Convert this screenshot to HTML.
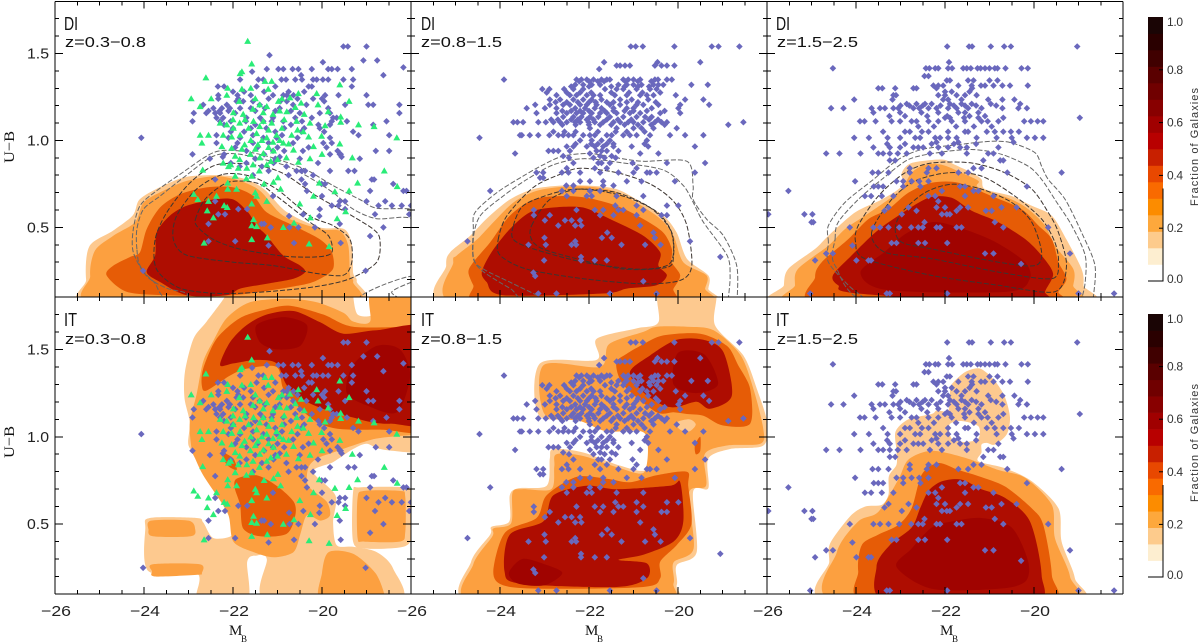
<!DOCTYPE html>
<html lang="en">
<head>
<meta charset="utf-8">
<title>U-B colour magnitude diagrams</title>
<style>
html,body{margin:0;padding:0;background:#fff;width:1200px;height:644px;overflow:hidden}
svg{display:block}
text{fill:#111}
.num{font-family:"Liberation Sans",sans-serif;font-size:15px;fill:#222}
.ser{font-family:"Liberation Serif",serif;fill:#111}
.tag{font-family:"Liberation Sans",sans-serif;font-size:18px;fill:#111}
.zlab{font-family:"Liberation Sans",sans-serif;font-size:15px;fill:#111}
.cb{font-family:"Liberation Sans",sans-serif;font-size:12px;fill:#333}
</style>
</head>
<body>
<svg id="chart" width="1200" height="644" viewBox="0 0 1200 644" xmlns="http://www.w3.org/2000/svg">
<defs>
<clipPath id="clip-0-0"><rect x="55" y="1.3" width="356" height="295.7"/></clipPath>
<clipPath id="clip-0-1"><rect x="411" y="1.3" width="356" height="295.7"/></clipPath>
<clipPath id="clip-0-2"><rect x="767" y="1.3" width="356" height="295.7"/></clipPath>
<clipPath id="clip-1-0"><rect x="55" y="297" width="356" height="297"/></clipPath>
<clipPath id="clip-1-1"><rect x="411" y="297" width="356" height="297"/></clipPath>
<clipPath id="clip-1-2"><rect x="767" y="297" width="356" height="297"/></clipPath>
</defs>
<rect width="1200" height="644" fill="#fff"/>
<g id="plots"></g>
<g id="axes"></g>
<g id="cbars"></g>

<text class="tag" x="64" y="30" textLength="14" lengthAdjust="spacingAndGlyphs">DI</text>
<text class="zlab" x="65" y="47" textLength="81" lengthAdjust="spacingAndGlyphs">z=0.3−0.8</text>
<text class="tag" x="421" y="30" textLength="14" lengthAdjust="spacingAndGlyphs">DI</text>
<text class="zlab" x="421" y="47" textLength="81" lengthAdjust="spacingAndGlyphs">z=0.8−1.5</text>
<text class="tag" x="776" y="30" textLength="14" lengthAdjust="spacingAndGlyphs">DI</text>
<text class="zlab" x="777" y="47" textLength="81" lengthAdjust="spacingAndGlyphs">z=1.5−2.5</text>
<text class="tag" x="64" y="326" textLength="13" lengthAdjust="spacingAndGlyphs">IT</text>
<text class="zlab" x="65" y="344" textLength="81" lengthAdjust="spacingAndGlyphs">z=0.3−0.8</text>
<text class="tag" x="421" y="326" textLength="13" lengthAdjust="spacingAndGlyphs">IT</text>
<text class="zlab" x="421" y="344" textLength="81" lengthAdjust="spacingAndGlyphs">z=0.8−1.5</text>
<text class="tag" x="776" y="326" textLength="13" lengthAdjust="spacingAndGlyphs">IT</text>
<text class="zlab" x="777" y="344" textLength="81" lengthAdjust="spacingAndGlyphs">z=1.5−2.5</text>

<text class="ser" font-size="15" text-anchor="middle" transform="translate(14,147) rotate(-90)" textLength="32" lengthAdjust="spacingAndGlyphs">U−B</text>
<text class="ser" font-size="15" text-anchor="middle" transform="translate(14,442) rotate(-90)" textLength="32" lengthAdjust="spacingAndGlyphs">U−B</text>
<g><text class="ser" font-size="15" x="229" y="635">M</text><text class="ser" font-size="9" x="241" y="642">B</text></g>
<g><text class="ser" font-size="15" x="585" y="635">M</text><text class="ser" font-size="9" x="597" y="642">B</text></g>
<g><text class="ser" font-size="15" x="940" y="635">M</text><text class="ser" font-size="9" x="952" y="642">B</text></g>
<text class="cb" text-anchor="middle" transform="translate(1198,147) rotate(-90)" textLength="118" style="font-size:11px">Fraction of Galaxies</text>
<text class="cb" text-anchor="middle" transform="translate(1198,443) rotate(-90)" textLength="118" style="font-size:11px">Fraction of Galaxies</text>
</svg>
<script>
// ---- tick values ----
const xMajorTicks=[-26,-24,-22,-20,-18];
const xTickLabels=["−26","−24","−22","−20"];
const xMinorTicks=[-25.5,-25,-24.5,-23.5,-23,-22.5,-21.5,-21,-20.5,-19.5,-19,-18.5];
const yMajorTicks=[1.5,1.0,0.5];
const yTickLabels=["1.5","1.0","0.5"];
const yMinorTicks=[1.7,1.6,1.4,1.3,1.2,1.1,0.9,0.8,0.7,0.6,0.4,0.3,0.2];
const cbarTickValues=[1.0,0.8,0.6,0.4,0.2,0.0];
const cbarTickLabels=["1.0","0.8","0.6","0.4","0.2","0.0"];
const cbarBandColors=["#ffffff","#fdeed0","#fdcb8c","#fda83c","#fc8c00","#f96a00","#e84800","#c82000","#b80000","#a00000","#880000","#700000","#5a0000","#400000","#2a0000","#1a0505"];
const levelColors={0:"#ffffff",1:"#fdc98f",2:"#fca040",3:"#e65c06",4:"#ae0d01",5:"#a00300"};

// ---- blue galaxies: each row is [U-B, M_B, M_B, ...] ----
const blueLowZ=[
[1.54,-19.52,-19.42,-19],[1.49,-21.18],[1.46,-19.07,-18.76],[1.45,-19.98],[1.42,-18.17],
[1.41,-20.23,-19.86,-19.78,-21.24,-20.98,-20.87,-20.66,-20.53,-19.65,-19.33],[1.395,-21.57],[1.375,-18.62,-20.47],
[1.35,-21.84,-21.43,-21.32,-20.91,-20.81,-20.6,-20.45,-20.2,-20.12,-19.98,-19.86,-19.3,-19.52],
[1.31,-22.34,-22.2,-20.3,-20.23,-21.47,-19.33,-21.05],[1.26,-20.87,-20.79,-20.64,-22.33,-19.93,-19.63,-19,-21.9,-21.6,-21.1],
[1.24,-22.33,-21.88,-20,-21.2,-20.55,-20.2],[1.225,-21.92,-21.77,-21.55,-20.94,-20.79,-19.95],
[1.205,-22.67,-22.14,-18.96,-18.85,-18.26,-19.48,-21.4,-20.65,-20.35],
[1.185,-22.44,-22.25,-22.07,-21.84,-21.28,-19.86,-21.6,-20.95],
[1.157,-22.88,-22.6,-22.4,-22.29,-19.82,-18.26,-21.95,-20.5,-20.05],
[1.13,-22.37,-22.22,-21.39,-19.75,-19.67,-20.23,-21.7,-21.1,-20.6],
[1.11,-22.91,-22.29,-21.71,-21.32,-21.13,-20.87,-18.55,-19.44,-19.78,-20.45,-22.05],
[1.09,-18.85,-19.82,-20.08,-22.2,-21.5,-20.7],[1.05,-19.3,-20.46,-21.75,-21.05,-19.95,-22.05],
[1.03,-18.49,-19.18,-22.37,-21.55,-20.9],[1.015,-24.06,-21.84,-21.32,-21.02,-19.82,-22.1,-20.55],
[.985,-22.37,-19.78,-19.97,-21.55,-21.2,-20.65,-21.9],[.94,-18.79,-18.49,-20.43,-21.7,-21.1,-20.85,-19.65],
[.92,-22.91,-19.6,-19.58,-19.82,-21.3,-22.2],[.905,-22.23,-19.56,-20.95],[.895,-19.15,-22.52,-21.5,-21.05,-20.5],
[.87,-21.09,-20.09,-21.7,-22.05],[.825,-19.41,-19.27,-19.82,-20.38,-20.46,-20.57,-21.2],[.775,-18.88,-18.83,-22.4,-20.46],
[.75,-18.4,-20.38,-20.01,-19.93],[.71,-18.1,-18.92,-18.17,-20.34],[.68,-20,-21.1],
[.65,-19,-18.58,-22.4,-19.48,-19.6],[.625,-18.73,-18.43,-18.21,-18,-19.78,-19.63],[.605,-21.88,-21.68,-20.05,-19.48],
[.575,-18.04,-18.81,-20.42,-22.33,-22.18],[.565,-20.06,-20.74],[.52,-22.55,-19.6,-21.36,-21.3],
[.5,-18.62,-20.53,-20.73,-21.15,-20.16],[.45,-18.92],[.42,-22.55,-21.95],[.41,-20.63,-19.58],[.395,-21.2],[.25,-19.02,-24.02],
[1.28,-22,-21.75,-21.3,-20.75,-20.4],[1.17,-22.55,-22.3,-22.1,-21.5,-21.05,-20.7],[1.07,-22,-21.6,-21.25,-20.85,-20.4,-20.05],[.96,-21.95,-21.45,-21,-20.3,-19.9],[.85,-21.85,-21.35,-20.8],[.8,-21.55,-20.75,-20.2]
];
const blueMidZ=[
[1.54,-21.06,-20.95,-20.79,-20.08,-19.24,-19.09,-18.62],[1.45,-21.66,-20.46,-19.5],
[1.43,-21.38,-21.3,-21.19,-21.08,-20.52,-20.37,-20.25,-20.08],[1.41,-21.77],
[1.35,-23.91,-22.28,-22.17,-22.05,-21.9,-21.72,-21.6,-21.53,-21.23,-21.12,-21,-20.85,-20.52,-20.45,-20.25,-20.14],
[1.32,-22.31,-22.13,-21.94,-21.75,-21.34,-21.15,-21,-20.82,-20.55,-20.44,-20.33,-19.7,-19.33],
[1.295,-23.05,-22.89,-22.56,-22.35,-22.13,-21.64,-21.38,-21.23,-20.93,-20.63,-20.48],
[1.26,-22.73,-22.43,-22.28,-22.05,-21.9,-21.75,-21.42,-21.15,-20.85,-20.7,-20.55,-20.05],
[1.235,-22.88,-22.65,-22.35,-22.13,-21.94,-21.72,-21.3,-21.04,-20.67,-19.84,-19.43],
[1.205,-23.21,-22.88,-22.58,-22.43,-22.2,-22.05,-21.83,-21.53,-21.3,-20.93,-20.78,-20.44,-19.95,-19.3],
[1.185,-23.4,-22.99,-22.73,-22.31,-22.09,-21.87,-21.72,-21.45,-21.15,-21,-20.59,-19.99],
[1.157,-23.18,-22.73,-22.5,-22.28,-22.13,-21.94,-21.75,-21.6,-21.38,-21.08,-20.85,-20.4,-19.95],
[1.135,-22.58,-22.35,-22.17,-21.98,-21.79,-21.53,-21.23,-20.93,-20.74,-20.59],
[1.105,-23.7,-23.61,-23.48,-23.14,-22.97,-22.8,-22.65,-22.5,-22.31,-22.2,-22.01,-21.87,-21.68,-21.45,-21.3,-21.12,-21,-20.78,-20.52,-20.37,-20.25,-18.53],
[1.09,-18.87],[1.07,-21.98,-21.38,-21,-20.82,-20.55,-20.03],
[1.03,-23.55,-23.51,-23.33,-23.14,-22.89,-22.69,-22.58,-22.46,-22.35,-22.13,-21.98,-21.87,-21.6,-21.49,-21.23,-21.08,-20.93,-20.63,-20.18,-19.84,-19.43],
[1.015,-24.46],[1,-22.2,-21.94,-21.72,-21.53,-20.7],
[.965,-22.5,-22.35,-22.05,-21.87,-21.68,-21.45,-21.04,-20.67,-19.62],
[.94,-22.91,-22.8,-22.69,-22.43,-21.83,-21.72,-21.6,-21.34],[.925,-23.66,-21.98,-20.85,-20.44],[.91,-22.58,-21.75,-21.49],
[.87,-22.35,-21.79,-21.72,-21.53,-21.02,-20.25,-19.39],[.84,-22.5,-21.87,-21.6,-20.93],
[.815,-23.18,-23.03,-22.61,-22.46,-22.2,-21.75,-21.34,-21,-20.7,-20.63,-20.48,-19.62],[.785,-23.1,-23.03],
[.765,-22.2,-21.98,-21.68,-21.15,-20.82,-20.07],[.74,-22.51,-22.35,-21.68,-21.45],[.71,-24.22,-22.61,-22.35,-21.98,-21.75],
[.68,-22.5,-22.05,-21.94,-21.38,-20.78],[.625,-21.41,-20.93,-20.25,-19.99],[.6,-23.24,-22.28,-21.87,-21.68,-21.34,-21.23,-20.78],
[.57,-23.24,-22.88,-21.75,-21.45,-20.93,-20.37,-20.25],[.54,-22.99,-22.54,-22.39,-22.2],[.51,-22.69,-22.31,-22.17,-20.85],
[.47,-21.59,-20.55],[.44,-23,-21.71,-21.49,-20.52],[.42,-24.73,-22.31,-19.73],[.4,-23.36,-22.97,-22.39,-22.29,-21.27,-20.74,-20.39],
[.33,-22.18,-19.05],[.31,-23.01,-21.87,-21.6,-22.18],[.24,-23.25],[.22,-23.21],[.19,-20.78],[.12,-23.14,-22.73,-21.53,-20.48],
[1.34,-22.22,-22,-21.8,-21.66,-21.18,-20.9,-20.6],[1.31,-22.4,-22,-21.5,-21.2,-20.9,-20.65],[1.275,-22.95,-22.5,-22.2,-21.95,-21.5,-21.1,-20.8,-20.4],
[1.22,-22.75,-22.5,-22.25,-22,-21.85,-21.6,-21.45,-21.15,-20.9,-20.5],[1.17,-22.6,-22.4,-22.2,-22,-21.65,-21.45,-21.2,-21,-20.7,-20.3],
[1.12,-22.85,-22.7,-22.4,-22.25,-22.05,-21.9,-21.6,-21.35,-21.05,-20.65,-20.45],[1.09,-22.6,-22.3,-22,-21.75,-21.5,-21.2,-20.9,-20.6,-20.3],
[1.05,-22.8,-22.55,-22.3,-21.8,-21.4,-21.15,-20.75],[.98,-22.3,-21.95,-21.8,-21.6,-21.45,-20.75],[.9,-22.45,-21.9,-21.65,-21.4]
];
const blueHighZ=[
[1.54,-21.95,-21.46,-21.39,-20.97,-20.67,-20.52,-19.03],[1.45,-21.91],
[1.415,-24.52,-22.43,-22.35,-22.22,-22.15,-21.93,-21.84,-21.59,-21.51,-21.42,-21.27,-21.2,-21.1,-21,-20.88,-20.82,-20.64,-20.28,-20.14],
[1.37,-22.46,-22.37],[1.345,-21.96,-21.89,-21.48,-21.36,-21,-20.82],
[1.315,-22.26,-22.15,-22.04,-21.7,-21.4,-21.19,-21.1,-20.91,-20.71,-20.54,-20.14],
[1.3,-23.5,-23.41,-23.12,-22.64,-22.71,-22.19,-21.39],[1.26,-23.1,-23.16,-22.15,-22,-21.74,-21.55,-21.29],
[1.235,-24.04,-23.18,-22.04,-21.93,-21.63,-21.03,-20.71,-20.44],
[1.21,-22.86,-22.64,-22.45,-22.3,-21.89,-21.63,-21.4,-20.97,-20.31],
[1.185,-24.56,-24.28,-23.65,-23.46,-23.35,-23.16,-23.05,-22.71,-22.58,-22.37,-22.19,-21.93,-21.74,-21.48,-21.18,-20.71,-20.35,-20.16],
[1.16,-23.61,-23.01,-22.53,-22.15,-21.7,-21.55,-21.25],[1.13,-22,-21.89,-21.57,-21.25,-20.69,-18.97],
[1.11,-23.91,-23.81,-23.56,-23.2,-23.01,-22.75,-22.64,-22.37,-22.15,-21.85,-21.55,-21.18,-21.04,-20.8,-20.22,-20.07,-19.92,-19.79],
[1.05,-23.39,-22.9,-22.79,-22.52,-22.37,-21.93,-21.55,-21.48,-21.06,-20.88,-20.69,-20.52,-20.34],
[1.015,-24.04,-23.71,-23.29,-23.01,-22.67,-22.56,-22.22,-22.11,-21.93,-21.74,-21.29,-20.84,-20.5,-20.16,-19.98,-19.79],
[.99,-22.19,-21.7,-20.46],[.96,-23.61,-23.24,-23.01,-22.71,-22.6,-22.49,-22.15,-21.93,-21.66,-21.51,-20.8],
[.925,-24.67,-24.37,-23.9,-23.5,-23.39,-23.24,-23.06,-22.86,-22.34,-22.07,-21.51,-20.91,-21.03],
[.885,-23.24,-23.12,-21.14,-20.76,-20.69],[.84,-22.37,-22.19,-22.79,-21.18,-21.36],
[.815,-23.63,-23.5,-23.27,-22.79,-22.41,-21.7,-21.48,-20.6,-19.38],[.765,-24.02,-23.09,-22.94,-22.75,-22.58,-22.37],
[.735,-23.6,-23.5,-23.39,-22.94,-22.55,-21.66,-21.55,-20.16],[.71,-25.52,-21.36,-21.25,-22.07],
[.68,-23.8,-23.66,-23.16,-23.42,-22.37,-22.22,-20.91,-21.55],[.65,-22.15],
[.615,-23.27,-22.82,-22.19,-22,-21.66,-21.48,-20.73,-20.39],[.595,-23.36,-22.64,-21.74,-21.08,-20.95],
[.575,-25.97,-25.16,-24.98,-22.97,-21.96,-21.89,-22.07],[.53,-25,-22.46,-24.96,-20.88],
[.5,-24.14,-23.61,-23.46,-23.27,-23.03,-22.76,-22.6,-22.5,-22.19,-22.11,-21.74,-21.63,-20.69,-19.68],
[.41,-23.2,-23.09,-22.6,-22.45,-21.95],[.395,-24.08],[.35,-24.67,-24.52,-21.1,-20.91,-19.19],[.31,-24.92,-23.99,-23.72,-23.66],[.29,-20.29],
[.12,-25.03,-23.31,-23.24,-21.95,-19,-18.2],
[1.2,-23,-22.8,-22.5,-22.1,-21.8,-21.55,-21.3,-20.85],[1.28,-22,-21.85,-21.45],[1.08,-22.6,-22.25,-21.75,-21.35,-20.95],[1.14,-23.25,-22.9,-22.4,-21.95,-21.45,-21.1],[.98,-23.3,-22.9,-22.3,-21.8,-21.3]
];
// ---- green galaxies, low redshift only: [M_B, U-B] ----
const greenLowZ=[[-21.67,1.57],[-21.58,1.44],[-21.8,1.395],[-21.84,1.385],[-22.61,1.36],[-21.28,1.34],[-21.13,1.34],[-19.6,1.32],[-22.12,1.3],[-21.8,1.295],[-21.6,1.3],[-21.21,1.295],[-20.12,1.27],[-22.94,1.24],[-22.49,1.24],[-22.14,1.26],[-20.53,1.27],[-19.39,1.225],[-22.74,1.195],[-21.86,1.225],[-20.72,1.245],[-20.47,1.215],[-20.09,1.205],[-21.4,1.205],[-20.98,1.225],[-21.24,1.195],[-21.99,1.16],[-21.77,1.15],[-21.32,1.16],[-20.79,1.165],[-20.4,1.15],[-19.86,1.165],[-19.58,1.135],[-22.29,1.1],[-22.14,1.09],[-21.99,1.07],[-21.73,1.12],[-21.54,1.11],[-21.32,1.11],[-21.13,1.1],[-20.57,1.11],[-20.27,1.1],[-19.93,1.085],[-19.18,1.09],[-18.83,1.08],[-19.58,1.105],[-22.74,1.03],[-22.55,1.03],[-22.22,1.03],[-22.03,1.02],[-21.84,1.03],[-21.47,1.04],[-21.24,1.015],[-21.02,1.03],[-20.68,1.03],[-20.42,1.05],[-20.01,1.025],[-18.32,1.015],[-22.7,.985],[-22.25,.965],[-22.03,.955],[-21.74,.975],[-21.44,.975],[-20.87,.985],[-20.19,.965],[-19.6,.98],[-21.95,.91],[-21.61,.92],[-21.32,.925],[-21.09,.94],[-20.64,.945],[-20,.92],[-20.27,.895],[-19.32,.9],[-22.22,.87],[-22.1,.85],[-21.88,.84],[-21.69,.84],[-21.24,.86],[-20.53,.875],[-21,.89],[-22.68,.83],[-21.41,.825],[-18.6,.825],[-21.95,.795],[-21.58,.795],[-20.99,.785],[-21.7,.78],[-22.12,.755],[-21.3,.75],[-21.09,.76],[-20.06,.755],[-19.2,.755],[-22.12,.72],[-21.92,.72],[-20.93,.72],[-21.5,.7],[-19.71,.705],[-19.39,.71],[-18.31,.735],[-20.19,.68],[-22.88,.69],[-22.37,.68],[-22.79,.66],[-22.55,.65],[-21.47,.68],[-21.24,.65],[-21.58,.635],[-20.5,.635],[-22.58,.595],[-22.2,.625],[-22.13,.615],[-19.47,.59],[-22.44,.555],[-20.26,.555],[-21.54,.545],[-19.66,.55],[-21.58,.51],[-21.47,.505],[-20.87,.5],[-20.63,.525],[-21.23,.44],[-21.58,.43],[-22.65,.41],[-20.29,.405],[-19.84,.39],
[-21.5,1.24],[-21.1,1.15],[-20.95,1.17],[-20.85,1.12],[-21.65,1.07],[-21.4,1.08],[-21.2,1.06],[-20.9,1.07],[-20.55,1.06],[-20.3,1.02],[-21.6,1],[-21.35,1.0],[-21.1,.99],[-20.95,1.0],[-21.8,.95],[-21.5,.95],[-21.2,.96],[-20.75,.98],[-21.85,.89],[-21.4,.9],[-21.15,.88],[-20.8,.9],[-22.05,.86],[-21.55,.86],[-21.85,1.1],[-22,1.12],[-21.55,1.18],[-20.6,1.19],[-20.9,1.24]];

// ---- filled density contours, points are [M_B, U-B] ----
const diLowBands=[
[1,[[-25.3,.2],[-25.23,.39],[-24.7,.48],[-24.25,.57],[-24.1,.66],[-23.65,.73],[-23.05,.79],[-22.3,.8],[-21.75,.78],[-21.3,.72],[-20.8,.59],[-20.05,.5],[-19.5,.49],[-19.33,.4],[-19.3,.24],[-19.22,.19],[-19.4,.05],[-25.1,.05]]],
[2,[[-25.21,.22],[-25.1,.367],[-24.69,.452],[-24.2,.53],[-24.01,.643],[-23.57,.71],[-23.04,.767],[-22.37,.795],[-21.84,.767],[-21.39,.71],[-20.87,.567],[-20.04,.49],[-19.6,.48],[-19.41,.395],[-19.37,.224],[-19.3,.186],[-19.5,.05],[-25,.05]]],
[3,[[-24.84,.224],[-24.69,.28],[-24.31,.33],[-24.09,.357],[-23.94,.49],[-23.64,.614],[-23.19,.69],[-22.59,.73],[-21.99,.73],[-21.54,.68],[-21.24,.586],[-20.64,.51],[-20.04,.43],[-19.78,.357],[-19.75,.262],[-20.04,.205],[-20.49,.167],[-21.99,.11],[-23.49,.11],[-24.39,.13]]],
[4,[[-23.94,.243],[-23.75,.338],[-23.72,.47],[-23.42,.567],[-23.04,.624],[-22.44,.66],[-21.99,.66],[-21.66,.586],[-21.47,.51],[-21.24,.452],[-20.87,.338],[-20.49,.28],[-20.38,.243],[-20.64,.205],[-21.24,.176],[-21.84,.148],[-22.14,.11],[-23.04,.11],[-23.64,.186]]]
];
const diMidBands=[
[1,[[-25.21,.28],[-25.12,.357],[-24.67,.452],[-24.3,.55],[-23.78,.66],[-23.25,.72],[-22.65,.74],[-21.98,.74],[-21.38,.72],[-20.93,.66],[-20.33,.567],[-20.03,.47],[-19.8,.32],[-19.32,.224],[-19.32,.148],[-19.43,.05],[-25.1,.05]]],
[2,[[-25.05,.3],[-24.97,.338],[-24.52,.43],[-24.22,.51],[-23.7,.643],[-23.18,.71],[-22.58,.734],[-21.98,.734],[-21.45,.71],[-21,.652],[-20.4,.55],[-20.1,.452],[-19.88,.3],[-19.36,.224],[-19.39,.148],[-19.5,.05],[-24.9,.05]]],
[3,[[-24.71,.243],[-24.6,.3],[-24.22,.414],[-23.78,.567],[-23.25,.66],[-22.65,.68],[-22.05,.67],[-21.38,.624],[-20.78,.548],[-20.33,.47],[-20.14,.376],[-20.14,.3],[-19.95,.224],[-20.1,.148],[-20.33,.05],[-24.37,.05],[-24.6,.167]]],
[4,[[-24.41,.243],[-24.19,.357],[-23.78,.49],[-23.33,.586],[-22.8,.614],[-22.13,.614],[-21.53,.548],[-20.78,.452],[-20.4,.357],[-20.44,.28],[-20.25,.224],[-20.48,.167],[-21.15,.148],[-21.68,.12],[-23.93,.11],[-24.3,.186]]]
];
const diHighBands=[
[1,[[-25.62,.167],[-25.52,.262],[-24.92,.376],[-24.62,.452],[-24.02,.586],[-23.42,.66],[-22.97,.738],[-22.97,.814],[-22.75,.87],[-22.07,.89],[-21.78,.86],[-21.4,.814],[-21.18,.776],[-21.1,.72],[-20.5,.68],[-20.05,.624],[-19.6,.567],[-19.27,.43],[-18.93,.26],[-18.89,.167],[-19,.05],[-25.6,.05]]],
[2,[[-25.37,.167],[-25.3,.262],[-24.62,.395],[-24.25,.49],[-23.8,.567],[-23.27,.66],[-22.97,.72],[-22.75,.814],[-22.45,.86],[-22.07,.86],[-21.63,.814],[-21.25,.767],[-21.25,.73],[-20.5,.66],[-20.13,.605],[-19.75,.51],[-19.53,.395],[-19.12,.262],[-19.12,.167],[-19.3,.05],[-25.3,.05]]],
[3,[[-24.92,.214],[-24.77,.3],[-24.17,.433],[-23.72,.548],[-23.27,.605],[-22.82,.7],[-22.3,.757],[-21.7,.757],[-20.95,.68],[-20.28,.605],[-19.9,.51],[-19.6,.433],[-19.45,.3],[-19.27,.205],[-19.45,.13],[-19.6,.05],[-24.77,.05]]],
[4,[[-24.52,.224],[-24.1,.338],[-23.57,.47],[-23.05,.567],[-22.37,.67],[-21.85,.67],[-21.4,.595],[-20.8,.53],[-20.2,.433],[-19.83,.338],[-19.57,.233],[-19.75,.13],[-19.75,.05],[-23.95,.12],[-24.4,.167]]],
[5,[[-23.9,.24],[-23.35,.36],[-22.9,.46],[-22.3,.53],[-21.7,.5],[-20.9,.42],[-20.2,.3],[-20.1,.2],[-20.6,.13],[-23.3,.14]]]
];
const itLowBands=[
[1,[[-22.14,1.82],[-22.59,1.66],[-22.89,1.56],[-23.08,1.37],[-23.09,1.22],[-22.97,1.08],[-23,.95],[-22.74,.875],[-22.44,.78],[-22.07,.665],[-21.99,.55],[-21.99,.44],[-22.44,.42],[-22.67,.51],[-22.82,.535],[-23.87,.535],[-23.97,.475],[-23.9,.23],[-22.82,.22],[-22.82,.1],[-22.82,.05],[-21.7,.05],[-21.68,.285],[-21.47,.32],[-21.24,.3],[-21.22,.05],[-18.32,.05],[-18.4,.245],[-18.77,.34],[-19.3,.37],[-19.67,.38],[-19.75,.51],[-19.7,.665],[-20.2,.8],[-19.75,.855],[-19.3,.93],[-19,.96],[-18.7,.93],[-18,.91],[-17.5,.91],[-17.5,1.9],[-18.77,1.81],[-18.85,1.7],[-19.2,1.7],[-19.3,1.81],[-19.3,1.9],[-22.14,1.9]]],
[1,[[-19.3,.685],[-19.3,.4],[-19,.36],[-18.17,.37],[-17.98,.44],[-17.98,.665],[-18.13,.71],[-19.15,.71]]],
[2,[[-22.97,1.08],[-22.93,.93],[-22.85,.875],[-22.67,.78],[-22.37,.665],[-22.1,.55],[-21.99,.4],[-21.54,.34],[-21.09,.31],[-20.64,.34],[-20.49,.44],[-20.34,.55],[-20.04,.52],[-19.82,.55],[-19.9,.63],[-20.31,.72],[-20.31,.82],[-20.12,.875],[-19.75,.91],[-19.3,.95],[-18.77,.99],[-17.95,1.01],[-17.5,1.01],[-17.5,1.9],[-18.85,1.85],[-18.92,1.66],[-19.3,1.66],[-19.52,1.71],[-20.12,1.77],[-20.79,1.79],[-21.62,1.77],[-22.14,1.68],[-22.44,1.55],[-22.67,1.43],[-22.82,1.24]]],
[2,[[-23.84,.52],[-23,.52],[-22.85,.47],[-22.95,.43],[-23.8,.43],[-23.9,.47]]],
[2,[[-23.8,.27],[-22.75,.27],[-22.7,.22],[-22.8,.21],[-23.75,.2],[-23.82,.23]]],
[2,[[-19.85,.34],[-19.3,.33],[-18.8,.22],[-18.6,.1],[-18.6,.05],[-20,.05],[-20,.22]]],
[2,[[-19.2,.65],[-19.2,.42],[-19.05,.4],[-18.25,.4],[-18.13,.45],[-18.13,.66],[-18.25,.69],[-19.05,.69]]],
[3,[[-22.7,1.29],[-22.67,1.39],[-22.37,1.56],[-21.84,1.68],[-21.24,1.73],[-20.72,1.75],[-19.97,1.7],[-19.3,1.63],[-17.95,1.63],[-17.5,1.63],[-17.5,1.02],[-17.98,1.02],[-18.62,1.04],[-19.3,1.04],[-19.75,1.05],[-20.12,1.085],[-20.49,1.16],[-20.87,1.275],[-21.02,1.4],[-21.69,1.39],[-22.07,1.35],[-22.59,1.265]]],
[3,[[-21.96,.705],[-21.92,.76],[-21.47,.78],[-21.02,.72],[-20.64,.63],[-20.6,.55],[-20.79,.445],[-21.39,.43],[-21.77,.475],[-21.84,.61]]],
[3,[[-22.25,.91],[-21.99,.875],[-21.92,.81],[-22.14,.84]]],
[4,[[-22.29,1.41],[-22.07,1.54],[-21.69,1.64],[-21.24,1.7],[-20.64,1.72],[-20.04,1.655],[-19.52,1.59],[-18.77,1.61],[-17.5,1.61],[-17.5,1.1],[-18.47,1.075],[-18.92,1.085],[-19.3,1.11],[-19.75,1.14],[-20.34,1.2],[-20.79,1.295],[-21.02,1.42],[-21.47,1.44],[-21.99,1.42]]],
[5,[[-21.47,1.64],[-20.87,1.685],[-20.34,1.64],[-20.49,1.52],[-21.02,1.5],[-21.39,1.54]]],
[5,[[-19.3,1.41],[-18.77,1.52],[-18.25,1.5],[-18.02,1.35],[-18.32,1.14],[-19,1.18],[-19.45,1.255]]]
];
const itMidBands=[
[1,[[-24.65,.05],[-24.65,.285],[-24.22,.44],[-24.19,.485],[-23.79,.515],[-23.78,.665],[-23.59,.705],[-22.95,.72],[-22.88,.875],[-22.8,.93],[-22.13,.91],[-21.3,.835],[-20.7,.815],[-20.7,1.03],[-21.6,1.045],[-22.13,1.105],[-23.12,1.12],[-23.1,1.42],[-21.83,1.44],[-21.83,1.56],[-20.93,1.62],[-20.44,1.655],[-20.4,1.85],[-19.2,1.85],[-19.17,1.64],[-18.53,1.465],[-18.23,1.275],[-18,1.085],[-18.08,.95],[-18.83,.93],[-19.32,.875],[-19.32,.705],[-19.66,.685],[-19.58,.34],[-20.03,.265],[-20.03,.15],[-20.33,.05]]],
[2,[[-24.6,.05],[-24.6,.27],[-24.17,.43],[-24.15,.475],[-23.75,.505],[-23.72,.68],[-23.5,.7],[-22.85,.7],[-22.78,.83],[-22.73,.9],[-22.13,.89],[-21.3,.82],[-20.75,.8],[-20.75,1.02],[-21.6,1.03],[-22.2,1.09],[-23,1.13],[-23.02,1.41],[-21.75,1.4],[-21.55,1.53],[-20.78,1.6],[-20.48,1.63],[-19.8,1.63],[-19.2,1.61],[-18.6,1.47],[-18.3,1.27],[-18.08,1.04],[-18.15,.96],[-18.9,.95],[-19.4,.9],[-19.37,.72],[-19.75,.68],[-19.65,.36],[-20.1,.28],[-20.1,.16],[-20.4,.05]]],
[1,[[-20.05,1.08],[-19.75,1.1],[-19.6,1.07],[-19.75,1.03],[-19.95,1.04]]],
[3,[[-24.15,.23],[-23.89,.45],[-23.18,.535],[-22.95,.665],[-22.28,.77],[-21.6,.76],[-21.08,.74],[-20.48,.78],[-19.8,.8],[-19.77,.72],[-19.7,.5],[-20.03,.38],[-20.4,.285],[-20.4,.19],[-20.78,.14],[-23.03,.13],[-23.93,.15]]],
[3,[[-21.34,1.35],[-21.38,1.43],[-21.15,1.475],[-20.78,1.53],[-20.33,1.58],[-19.5,1.59],[-18.9,1.52],[-18.65,1.41],[-18.38,1.275],[-18.38,1.075],[-19,1.065],[-19.43,1.12],[-19.8,1.13],[-20.1,1.14],[-20.48,1.14],[-21.15,1.275]]],
[3,[[-19.62,.95],[-19.5,1],[-19.5,.92],[-19.6,.9]]],
[4,[[-23.9,.23],[-23.78,.44],[-23.03,.515],[-22.8,.665],[-22.05,.72],[-21.38,.7],[-20.18,.72],[-19.95,.74],[-19.88,.515],[-20.1,.4],[-20.78,.325],[-21.34,.295],[-20.7,.275],[-20.7,.19],[-21.38,.14],[-23.55,.16]]],
[4,[[-21.08,1.37],[-20.63,1.465],[-20.03,1.555],[-19.43,1.555],[-18.98,1.485],[-18.79,1.235],[-19.28,1.16],[-19.58,1.2],[-20.03,1.17],[-20.33,1.18],[-20.78,1.255]]],
[5,[[-23.8,.22],[-23.5,.3],[-23,.27],[-22.6,.22],[-23,.15],[-23.6,.16]]],
[5,[[-20,1.48],[-19.4,1.47],[-19.1,1.3],[-19.6,1.25],[-20.1,1.3]]]
];
const itHighBands=[
[1,[[-24.58,.05],[-24.6,.285],[-24.58,.39],[-24.13,.545],[-23.8,.6],[-23.42,.61],[-23.27,.67],[-23.26,.775],[-23.09,.84],[-23.09,.92],[-23.11,1.03],[-22.82,1.1],[-22.3,1.13],[-22.19,1.15],[-21.93,1.15],[-21.89,1.245],[-21.85,1.3],[-21.55,1.37],[-21.21,1.39],[-20.88,1.32],[-20.65,1.225],[-20.54,1.11],[-20.61,1.015],[-20.88,.955],[-21.06,.965],[-21.18,.955],[-21.18,.91],[-21.25,.86],[-20.65,.82],[-20.05,.745],[-19.45,.59],[-19.38,.4],[-19.08,.19],[-19.19,.05]]],
[0,[[-21.9,1.07],[-21.63,1.09],[-21.25,1.06],[-21.25,.99],[-21.55,.97],[-21.85,.99]]],
[2,[[-24.43,.05],[-24.43,.34],[-23.95,.515],[-23.5,.57],[-23.05,.755],[-22.82,.87],[-22.3,.92],[-21.55,.88],[-20.8,.81],[-20.2,.765],[-19.6,.61],[-19.53,.42],[-19.19,.2],[-19.34,.05]]],
[3,[[-23.95,.23],[-23.87,.38],[-23.5,.44],[-23.05,.495],[-22.75,.59],[-22.52,.785],[-22.15,.85],[-21.7,.81],[-21.25,.775],[-20.65,.715],[-20.05,.59],[-19.79,.495],[-19.6,.21],[-19.75,.05],[-23.72,.05]]],
[4,[[-23.54,.255],[-23.24,.38],[-22.75,.48],[-22.56,.59],[-22.37,.69],[-22.07,.745],[-21.63,.755],[-21.18,.7],[-20.65,.65],[-20.09,.515],[-19.83,.21],[-20.05,.05],[-23.27,.05]]],
[5,[[-23.09,.255],[-22.75,.36],[-22.3,.48],[-21.85,.515],[-21.18,.535],[-20.5,.48],[-20.13,.285],[-20.2,.17],[-20.8,.13],[-22.3,.13]]]
];

// ---- dashed reference contours (DI row), points are [M_B, U-B] ----
const diLowLines=[
[[-24.24,.357],[-24.24,.49],[-24.09,.624],[-23.72,.71],[-23.19,.805],[-22.44,.93],[-21.84,.94],[-21.24,.91],[-20.64,.86],[-20.27,.82],[-19.75,.74],[-19.15,.66],[-18.77,.61],[-17.87,.6],[-17.5,.5],[-17.5,.2],[-17.98,.22],[-18.62,.17],[-19.11,.11],[-19.5,.04],[-22.8,.04],[-23.04,.12],[-23.49,.15],[-23.94,.22]],
[[-24.16,.375],[-24.16,.49],[-24.01,.605],[-23.64,.68],[-23.12,.785],[-22.44,.91],[-21.84,.92],[-20.87,.86],[-20.34,.795],[-19.75,.7],[-19.3,.605],[-18.77,.55],[-17.98,.55],[-17.6,.4],[-17.6,.22],[-17.98,.186],[-18.43,.13],[-18.5,.05],[-23,.05],[-23.79,.19],[-24.09,.28]],
[[-22.37,.86],[-21.54,.86],[-20.87,.81],[-20.12,.68],[-19.45,.585],[-18.85,.49],[-18.7,.43],[-18.77,.3],[-19.37,.205],[-20.12,.16],[-21.24,.13],[-22.29,.12],[-23.19,.15],[-23.72,.26],[-23.75,.43],[-23.49,.585],[-22.97,.755]],
[[-22.22,.805],[-21.62,.795],[-21.02,.72],[-20.27,.565],[-19.75,.51],[-19.37,.43],[-19.33,.3],[-19.52,.225],[-20.12,.235],[-21.09,.28],[-21.99,.3],[-23.04,.34],[-23.34,.43],[-23.27,.565],[-22.82,.72]],
[[-22.82,.565],[-22.82,.51],[-22.44,.43],[-21.84,.375],[-20.87,.335],[-20.12,.33],[-19.78,.355],[-19.85,.45],[-20.27,.53],[-21.02,.68],[-21.47,.755],[-22.1,.76],[-22.6,.67]]
];
const diMidLines=[
[[-24.6,.49],[-24.56,.586],[-24.07,.7],[-23.48,.795],[-23.03,.86],[-22.58,.91],[-21.98,.925],[-21.38,.9],[-20.78,.88],[-19.8,.88],[-19.66,.74],[-19.66,.66],[-19.36,.548],[-18.98,.452],[-18.68,.28],[-18.67,.09],[-18.7,.04],[-22.9,.04],[-23.03,.09],[-23.78,.185],[-24.37,.26],[-24.6,.32]],
[[-24.45,.565],[-23.93,.68],[-23.4,.775],[-22.8,.86],[-22.13,.895],[-21.23,.87],[-20.33,.83],[-19.88,.74],[-19.66,.645],[-19.43,.53],[-18.9,.34],[-18.83,.22],[-18.87,.09],[-18.9,.05],[-23,.05],[-23.78,.15],[-24.52,.28],[-24.6,.43]],
[[-24.04,.43],[-23.85,.565],[-23.25,.73],[-22.65,.805],[-22.2,.84],[-21.38,.815],[-20.63,.75],[-20.1,.65],[-19.8,.51],[-19.69,.28],[-19.95,.195],[-20.78,.175],[-22.13,.205],[-23.4,.26],[-24,.34]],
[[-23.7,.51],[-23.48,.624],[-22.88,.69],[-22.28,.72],[-21.38,.7],[-20.63,.614],[-20.18,.49],[-20.1,.357],[-20.25,.28],[-20.93,.26],[-22.13,.3],[-23.25,.376],[-23.7,.43]],
[[-23.29,.51],[-22.88,.66],[-22.2,.72],[-21.23,.68],[-20.48,.59],[-20.14,.47],[-20.1,.335],[-20.25,.27],[-21.23,.26],[-22.28,.32],[-23.03,.375],[-23.29,.43]]
];
const diHighLines=[
[[-24.62,.414],[-24.62,.51],[-24.25,.643],[-23.65,.767],[-23.05,.89],[-22.52,.948],[-21.7,.976],[-20.95,.995],[-20.5,.986],[-19.98,.93],[-19.83,.852],[-19.68,.776],[-19.3,.66],[-18.93,.47],[-18.63,.28],[-18.67,.09],[-18.7,.04],[-23.6,.04],[-23.8,.09],[-24.17,.167],[-24.62,.3]],
[[-24.47,.433],[-24.4,.53],[-23.95,.66],[-23.42,.776],[-22.82,.89],[-22.15,.93],[-21.4,.948],[-20.73,.92],[-20.13,.852],[-19.83,.776],[-19.53,.66],[-19.15,.51],[-18.85,.338],[-18.85,.186],[-18.93,.09],[-19,.05],[-23.5,.05],[-24.47,.28]],
[[-24.01,.414],[-23.95,.51],[-23.5,.68],[-22.9,.814],[-22.3,.87],[-21.4,.87],[-20.65,.814],[-20.05,.72],[-19.68,.586],[-19.45,.47],[-19.27,.28],[-19.53,.13],[-20.8,.167],[-22.3,.224],[-23.8,.32]],
[[-23.65,.47],[-23.2,.66],[-22.67,.767],[-21.93,.814],[-21.18,.795],[-20.43,.68],[-19.83,.548],[-19.53,.414],[-19.45,.3],[-19.6,.205],[-20.8,.243],[-22.3,.32],[-23.35,.357]],
[[-23.12,.49],[-22.97,.586],[-22.45,.7],[-21.85,.748],[-21.18,.72],[-20.5,.643],[-20.05,.53],[-19.83,.357],[-19.98,.28],[-20.8,.3],[-22.3,.376],[-22.97,.414]]
];

const svgNS="http://www.w3.org/2000/svg";
const PANEL_W=356, X_SCALE=44.5;
function xScale(col,m){return 55+col*PANEL_W+(m+26)*X_SCALE;}
function yScale(row,u){return row===0 ? 1.3+(1.8-u)*173.9 : 297+(1.8-u)*174.7;}
function cbarY(row,v){return row===0 ? 281-v*264 : 577-v*263;}
function make(tag,parent,attrs){const el=document.createElementNS(svgNS,tag);for(const k in attrs)el.setAttribute(k,attrs[k]);parent.appendChild(el);return el;}
function smoothClosed(pts,col,row){
  const p=pts.map(d=>[xScale(col,d[0]),yScale(row,d[1])]);
  const n=p.length;let s="M"+p[0][0].toFixed(1)+" "+p[0][1].toFixed(1);
  const k=1/7;
  for(let i=0;i<n;i++){
    const a=p[(i-1+n)%n],b=p[i],c=p[(i+1)%n],d=p[(i+2)%n];
    s+="C"+(b[0]+(c[0]-a[0])*k).toFixed(1)+" "+(b[1]+(c[1]-a[1])*k).toFixed(1)+" "+(c[0]-(d[0]-b[0])*k).toFixed(1)+" "+(c[1]-(d[1]-b[1])*k).toFixed(1)+" "+c[0].toFixed(1)+" "+c[1].toFixed(1);
  }
  return s+"Z";
}
const plots=document.getElementById("plots");
const axes=document.getElementById("axes");
const cbars=document.getElementById("cbars");
function drawDiamond(g,col,row,m,u){
  const x=xScale(col,m),y=yScale(row,u),r=3.3;
  const el=make("path",g,{d:`M${x.toFixed(1)} ${(y-r).toFixed(1)}L${(x+r).toFixed(1)} ${y.toFixed(1)}L${x.toFixed(1)} ${(y+r).toFixed(1)}L${(x-r).toFixed(1)} ${y.toFixed(1)}Z`,fill:"#6a68bd"});
  
  
}
function drawTriangle(g,col,row,m,u){
  const x=xScale(col,m),y=yScale(row,u),r=3.5;
  const el=make("path",g,{d:`M${x.toFixed(1)} ${(y-r).toFixed(1)}L${(x+r).toFixed(1)} ${(y+2.6).toFixed(1)}L${(x-r).toFixed(1)} ${(y+2.6).toFixed(1)}Z`,fill:"#2aec78"});
  
  
}
function drawPanel(col,row,bands,lines,blue,green){
  const g=make("g",plots,{"clip-path":`url(#clip-${row}-${col})`});
  
  
  bands.forEach(b=>{
    const el=make("path",g,{d:smoothClosed(b[1],col,row),fill:levelColors[b[0]]});
    
    
  });
  (lines||[]).forEach((ln,i)=>{
    const el=make("path",g,{d:smoothClosed(ln,col,row),fill:"none",stroke:i<2?"#666":"#3c3430","stroke-width":"1","stroke-dasharray":"5 2"});
    
    
  });
  blue.forEach(r=>{for(let i=1;i<r.length;i++)drawDiamond(g,col,row,r[i],r[0]);});
  (green||[]).forEach(d=>drawTriangle(g,col,row,d[0],d[1]));
}
drawPanel(0,0,diLowBands,diLowLines,blueLowZ,greenLowZ);
drawPanel(1,0,diMidBands,diMidLines,blueMidZ,null);
drawPanel(2,0,diHighBands,diHighLines,blueHighZ,null);
drawPanel(0,1,itLowBands,null,blueLowZ,greenLowZ);
drawPanel(1,1,itMidBands,null,blueMidZ,null);
drawPanel(2,1,itHighBands,null,blueHighZ,null);

function line(x1,y1,x2,y2,w,name){
  const el=make("line",axes,{x1:x1,y1:y1,x2:x2,y2:y2,stroke:"#000","stroke-width":w||1,"shape-rendering":"crispEdges"});
  
  
}
for(let row=0;row<2;row++){
  const top=yScale(row,1.8),bot=yScale(row,0.1);
  for(let col=0;col<3;col++){
    const L=xScale(col,-26),R=xScale(col,-18);
    line(L,top,R,top,1,'panel-top-border');
    line(L,bot,R,bot,1,'panel-bottom-border');
    line(L,top,L,bot,1,'panel-left-border');
    line(R,top,R,bot,1,'panel-right-border');
    xMajorTicks.forEach(m=>{const x=xScale(col,m);line(x,bot,x,bot-7,1,'x-major-tick');line(x,top,x,top+7,1,'x-major-tick');});
    xMinorTicks.forEach(m=>{const x=xScale(col,m);line(x,bot,x,bot-4,1,'x-minor-tick');line(x,top,x,top+4,1,'x-minor-tick');});
    yMajorTicks.forEach(u=>{const y=yScale(row,u);line(L,y,L+8,y,1,'y-major-tick');line(R,y,R-8,y,1,'y-major-tick');});
    yMinorTicks.forEach(u=>{const y=yScale(row,u);line(L,y,L+4,y,1,'y-minor-tick');line(R,y,R-4,y,1,'y-minor-tick');});
    if(row===1){
      xTickLabels.forEach((t,i)=>{
        const el=make("text",axes,{class:"num",x:xScale(col,xMajorTicks[i])+1,y:616,"text-anchor":"middle",textLength:30,lengthAdjust:"spacingAndGlyphs"});
        el.textContent=t;
        
        
      });
    }
    if(col===0){
      yTickLabels.forEach((t,i)=>{
        const el=make("text",axes,{class:"num",x:27,y:yScale(row,yMajorTicks[i])+5,textLength:22,lengthAdjust:"spacingAndGlyphs"});
        el.textContent=t;
        
        
      });
    }
  }
}
function drawColorbar(row){
  const x0=1148,x1=1163,n=cbarBandColors.length;
  cbarBandColors.forEach((c,i)=>{
    const yB=cbarY(row,i/n),yT=cbarY(row,(i+1)/n);
    const el=make("rect",cbars,{x:x0,y:yT,width:x1-x0,height:yB-yT+0.3,fill:c});
    
    
  });
  const ax=make("path",cbars,{d:`M${x0} ${cbarY(row,0)}H${x1}V${cbarY(row,0.35)}`,fill:"none",stroke:"#000","stroke-width":1,"shape-rendering":"crispEdges"});
  
  
  cbarTickValues.forEach((v,i)=>{
    const y=cbarY(row,v);
    if(v>0&&v<1){
      const tk=make("line",cbars,{x1:x1-4,y1:y,x2:x1,y2:y,stroke:"#000","stroke-width":1});
      
      
    }
    const off=v===1?9:(v===0?2:4);
    const el=make("text",cbars,{class:"cb",x:1167,y:y+off,textLength:16});
    el.textContent=cbarTickLabels[i];
    
    
  });
}
drawColorbar(0);
drawColorbar(1);
</script>
</body>
</html>
